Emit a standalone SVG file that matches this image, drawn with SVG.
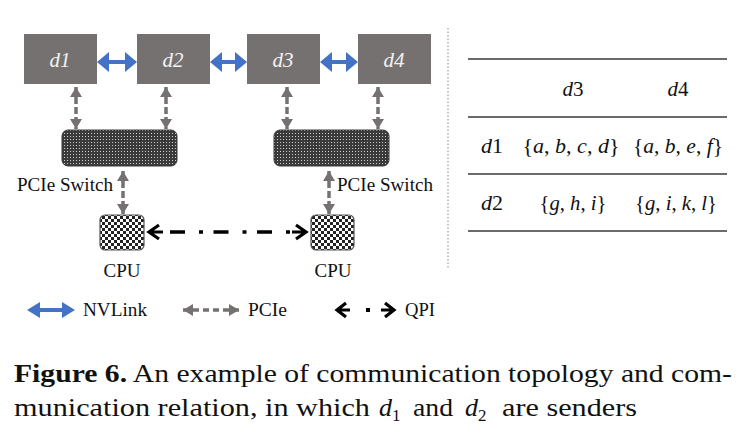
<svg xmlns="http://www.w3.org/2000/svg" width="756" height="442" viewBox="0 0 756 442">
<style>
.gpu{fill:#767171}
.gl{font-family:"Liberation Serif",serif;font-style:italic;font-size:21px;fill:#f2f2f2;text-anchor:middle}
.lbl{font-family:"Liberation Serif",serif;font-size:18px;fill:#111}
.nv{fill:#4472C4}
.pcie{stroke:#767171;stroke-width:3.5;stroke-dasharray:7,3;fill:none}
.qpi{stroke:#000;stroke-width:3.2;fill:none}
.qd{stroke:#000;stroke-width:3.4;stroke-dasharray:15,14,4,10.5;fill:none}
.sw{fill:url(#dots);stroke:#3a3a3a;stroke-width:1}
.cpu{fill:url(#checker);stroke:#555;stroke-width:1.2}
.tl{stroke:#3a3a3a;stroke-width:1.4}
.mt{font-family:"Liberation Serif",serif;font-size:22px;fill:#111;text-anchor:middle}
.cap{font-family:"Liberation Serif",serif;font-size:26px;fill:#111}
.sub{font-family:"Liberation Serif",serif;font-size:17px;fill:#111}
</style>
<defs>
<pattern id="dots" width="3" height="3" patternUnits="userSpaceOnUse">
<rect width="3" height="3" fill="#3a3a3a"/>
<rect x="1" y="1" width="1" height="1" fill="#cfcfcf"/>
</pattern>
<pattern id="checker" width="6" height="6" patternUnits="userSpaceOnUse">
<rect width="6" height="6" fill="#fff"/>
<rect width="3" height="3" fill="#222"/>
<rect x="3" y="3" width="3" height="3" fill="#222"/>
</pattern>
<marker id="pa" markerUnits="userSpaceOnUse" viewBox="0 0 10 12" markerWidth="10" markerHeight="12" refX="10" refY="6" orient="auto-start-reverse">
<path d="M0,0 L10,6 L0,12 Z" fill="#767171"/>
</marker>
</defs>

<g id="d1"><rect class="gpu" x="24" y="34" width="73" height="50"/><text class="gl" x="60" y="67">d1</text></g>
<g id="d2"><rect class="gpu" x="137" y="34" width="73" height="50"/><text class="gl" x="173" y="67">d2</text></g>
<g id="d3"><rect class="gpu" x="247" y="34" width="73" height="50"/><text class="gl" x="283" y="67">d3</text></g>
<g id="d4"><rect class="gpu" x="358" y="34" width="73" height="50"/><text class="gl" x="394" y="67">d4</text></g>

<g id="switch1"><rect class="sw" x="62" y="130" width="115" height="36" rx="6"/><text class="lbl" x="17" y="191" textLength="96" lengthAdjust="spacingAndGlyphs">PCIe Switch</text></g>
<g id="switch2"><rect class="sw" x="274" y="130" width="115" height="36" rx="6"/><text class="lbl" x="337" y="191" textLength="96" lengthAdjust="spacingAndGlyphs">PCIe Switch</text></g>

<g id="cpu1"><rect class="cpu" x="100" y="215" width="44" height="35" rx="5"/><text class="lbl" x="122" y="277" text-anchor="middle" textLength="37" lengthAdjust="spacingAndGlyphs">CPU</text></g>
<g id="cpu2"><rect class="cpu" x="311" y="215" width="43" height="35" rx="5"/><text class="lbl" x="333" y="277" text-anchor="middle" textLength="37" lengthAdjust="spacingAndGlyphs">CPU</text></g>

<g id="connectors">
<polygon class="nv" points="97,62 109,52 109,60 125,60 125,52 137,62 125,72 125,64 109,64 109,72"/>
<polygon class="nv" points="210,62 222,52 222,60 235,60 235,52 247,62 235,72 235,64 222,64 222,72"/>
<polygon class="nv" points="320,62 332,52 332,60 346,60 346,52 358,62 346,72 346,64 332,64 332,72"/>

<line class="pcie" x1="76" y1="87" x2="76" y2="129" marker-start="url(#pa)" marker-end="url(#pa)"/>
<line class="pcie" x1="166" y1="87" x2="166" y2="129" marker-start="url(#pa)" marker-end="url(#pa)"/>
<line class="pcie" x1="287" y1="87" x2="287" y2="129" marker-start="url(#pa)" marker-end="url(#pa)"/>
<line class="pcie" x1="378" y1="87" x2="378" y2="129" marker-start="url(#pa)" marker-end="url(#pa)"/>
<line class="pcie" x1="123" y1="171" x2="123" y2="214" marker-start="url(#pa)" marker-end="url(#pa)"/>
<line class="pcie" x1="329" y1="171" x2="329" y2="214" marker-start="url(#pa)" marker-end="url(#pa)"/>

<path class="qpi" d="M159,225 L149,232 L159,239 M149,232 L163,232"/>
<line class="qd" x1="170" y1="232" x2="290" y2="232"/>
<path class="qpi" d="M296,225 L306,232 L296,239 M306,232 L292,232"/>
</g>

<g id="legend">
<polygon class="nv" points="27,310 40,302 40,308 62,308 62,302 75,310 62,318 62,312 40,312 40,318"/>
<text class="lbl" x="83" y="316" textLength="64" lengthAdjust="spacingAndGlyphs">NVLink</text>
<line class="pcie" x1="183" y1="310" x2="239" y2="310" marker-start="url(#pa)" marker-end="url(#pa)" style="stroke-dasharray:6,4"/>
<text class="lbl" x="248" y="316" textLength="39" lengthAdjust="spacingAndGlyphs">PCIe</text>
<path class="qpi" d="M346,303 L337,310 L346,317 M337,310 L350,310"/>
<rect x="366" y="308" width="4" height="4" fill="#000"/>
<path class="qpi" d="M385,303 L394,310 L385,317 M394,310 L381,310"/>
<text class="lbl" x="405" y="316" textLength="30" lengthAdjust="spacingAndGlyphs">QPI</text>
</g>

<line x1="448" y1="28" x2="448" y2="268" stroke="#888" stroke-width="1" stroke-dasharray="1.5,2"/>

<g id="table">
<line class="tl" x1="468" y1="59" x2="727" y2="59"/>
<line class="tl" x1="468" y1="117" x2="727" y2="117"/>
<line class="tl" x1="468" y1="174" x2="727" y2="174"/>
<line class="tl" x1="468" y1="231" x2="727" y2="231"/>
<text class="mt" x="573" y="96" textLength="21" lengthAdjust="spacingAndGlyphs"><tspan font-style="italic">d</tspan>3</text>
<text class="mt" x="678" y="96" textLength="21" lengthAdjust="spacingAndGlyphs"><tspan font-style="italic">d</tspan>4</text>
<text class="mt" x="492" y="153" textLength="22" lengthAdjust="spacingAndGlyphs"><tspan font-style="italic">d</tspan>1</text>
<text class="mt" x="571" y="153" textLength="97" lengthAdjust="spacingAndGlyphs">{<tspan font-style="italic">a</tspan>, <tspan font-style="italic">b</tspan>, <tspan font-style="italic">c</tspan>, <tspan font-style="italic">d</tspan>}</text>
<text class="mt" x="678" y="153" textLength="90" lengthAdjust="spacingAndGlyphs">{<tspan font-style="italic">a</tspan>, <tspan font-style="italic">b</tspan>, <tspan font-style="italic">e</tspan>, <tspan font-style="italic">f</tspan>}</text>
<text class="mt" x="492" y="210" textLength="22" lengthAdjust="spacingAndGlyphs"><tspan font-style="italic">d</tspan>2</text>
<text class="mt" x="573" y="210" textLength="67" lengthAdjust="spacingAndGlyphs">{<tspan font-style="italic">g</tspan>, <tspan font-style="italic">h</tspan>, <tspan font-style="italic">i</tspan>}</text>
<text class="mt" x="676" y="210" textLength="82" lengthAdjust="spacingAndGlyphs">{<tspan font-style="italic">g</tspan>, <tspan font-style="italic">i</tspan>, <tspan font-style="italic">k</tspan>, <tspan font-style="italic">l</tspan>}</text>
</g>

<g id="caption">
<text class="cap" x="14" y="382" textLength="718" lengthAdjust="spacingAndGlyphs"><tspan font-weight="bold">Figure 6.</tspan> An example of communication topology and com-</text>
<text class="cap" x="14" y="416" textLength="356" lengthAdjust="spacingAndGlyphs">munication relation, in which</text>
<text class="cap" x="379" y="416" font-style="italic">d</text>
<text class="sub" x="392" y="421">1</text>
<text class="cap" x="413" y="416" textLength="40" lengthAdjust="spacingAndGlyphs">and</text>
<text class="cap" x="465" y="416" font-style="italic">d</text>
<text class="sub" x="478" y="421">2</text>
<text class="cap" x="502" y="416" textLength="135" lengthAdjust="spacingAndGlyphs">are senders</text>
</g>
</svg>
